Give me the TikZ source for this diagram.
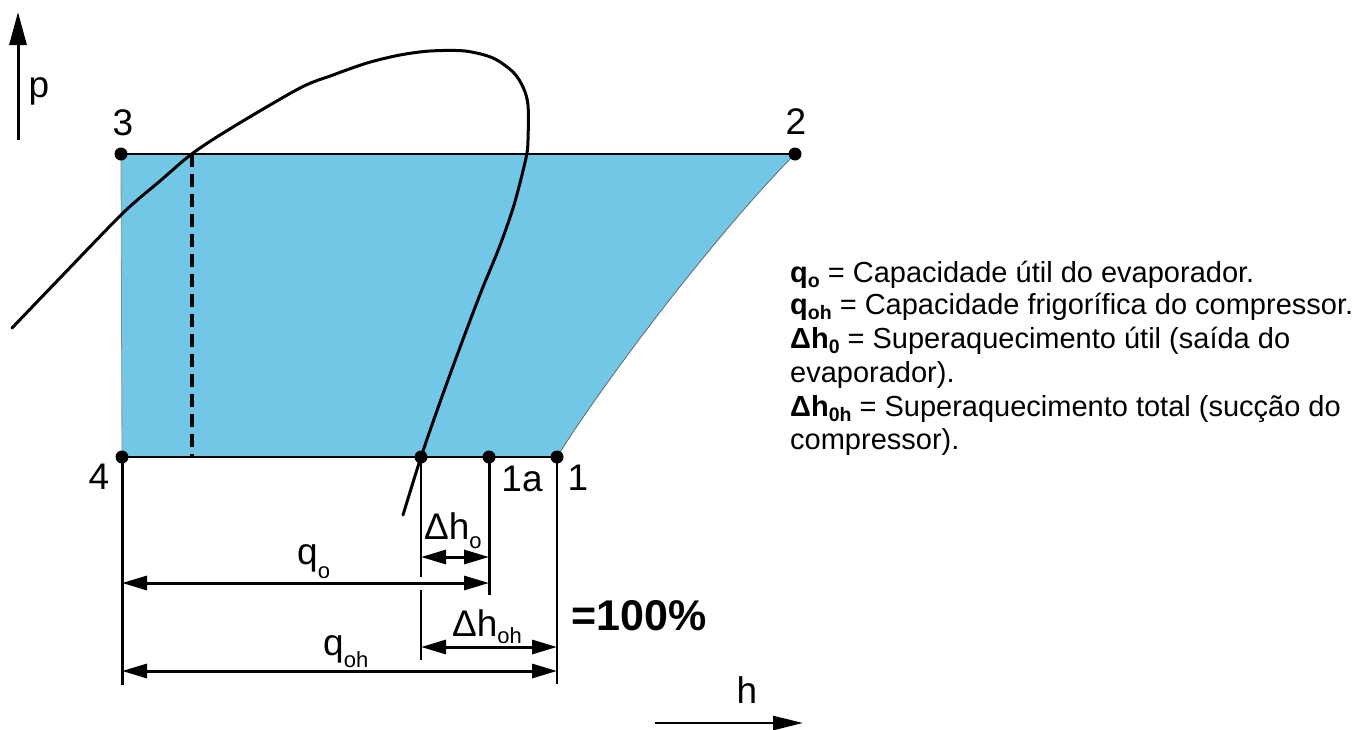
\documentclass[tikz,border=0pt]{standalone}
\usepackage{fontspec}
\setmainfont{Liberation Sans}
\usetikzlibrary{arrows.meta}
\definecolor{cycleblue}{RGB}{115,199,230}
\newcommand{\lbsz}{\fontsize{37}{37}\selectfont}
\newcommand{\subsz}{\fontsize{22}{22}\selectfont}
\newcommand{\txsz}{\fontsize{29}{33}\selectfont}
\newcommand{\txsub}[1]{\raisebox{-5pt}{\fontsize{19.5}{19.5}\selectfont\bfseries #1}}
\newcommand{\dsub}[2]{\raisebox{-#1pt}{\subsz #2}}
\begin{document}
\begin{tikzpicture}[x={(1pt,0)}, y={(0,-1pt)},
  thinln/.style={line width=1.5pt},
  thickln/.style={line width=3pt},
  dimarrow/.style={line width=3pt, {Triangle[length=25pt,width=14pt]}-{Triangle[length=25pt,width=14pt]}},
  dot/.style={circle, fill=black, inner sep=0pt, minimum size=13pt},
  lbl/.style={inner sep=0pt, font=\lbsz},
  txt/.style={anchor=base west, inner sep=0pt, font=\txsz}]
\useasboundingbox (0,0) rectangle (1362,729);

% cycle corner points
\coordinate (P3) at (121,154);
\coordinate (P2) at (795,154);
\coordinate (P1) at (557,457);
\coordinate (P4) at (122,457);
\coordinate (P1a) at (489,457);
\coordinate (Psat) at (421,457);
\coordinate (Pdash) at (192,154);
\coordinate (Pdashb) at (192,457);

% blue area
\fill[cycleblue] (P3) -- (P2) .. controls (715,235) and (605,380) .. (P1) -- (P4) -- cycle;
\draw[line width=0.8pt, black!60] (P2) .. controls (715,235) and (605,380) .. (P1);
\draw[line width=0.8pt, black!45] (P3) -- (P4);
\draw[thinln] (P3) -- (P2);
\draw[thinln] (P4) -- (P1);
\draw[line width=4.5pt, dash pattern=on 13pt off 7pt] (Pdash) -- (Pdashb);

% saturation dome
\draw[line width=3pt, line join=round, line cap=round] plot[smooth, tension=0.5] coordinates {
 (12,328) (60,278) (123,213) (160,181) (193,153) (233,127) (300,88) (333,75) (367,63)
 (400,55) (430,51) (465,51) (493,58) (513,72) (523,87) (528,105) (528,140) (526,158)
 (514,205) (499,248) (481,292) (459,350) (439,405) (421,457) (403,515)};

% extension lines
\coordinate (E4) at (122,685);
\coordinate (Es1) at (421,577);
\coordinate (Es2) at (421,590);
\coordinate (Es3) at (421,660);
\coordinate (E1a) at (489,595);
\coordinate (E1) at (557,684);
\draw[thickln] (P4) -- (E4);
\draw[thinln] (Psat) -- (Es1);
\draw[thinln] (Es2) -- (Es3);
\draw[thickln] (P1a) -- (E1a);
\draw[thinln] (P1) -- (E1);

% dimension arrows
\coordinate (dhoL) at (421,557);
\coordinate (dhoR) at (489,557);
\coordinate (qoL) at (122,583);
\coordinate (qoR) at (489,583);
\coordinate (dhohL) at (421,647);
\coordinate (dhohR) at (557,647);
\coordinate (qohL) at (122,671);
\coordinate (qohR) at (557,671);
\draw[dimarrow] (dhoL) -- (dhoR);
\draw[dimarrow] (qoL) -- (qoR);
\draw[dimarrow] (dhohL) -- (dhohR);
\draw[dimarrow] (qohL) -- (qohR);

% axes
\coordinate (pA) at (18,140);
\coordinate (pB) at (18,12);
\coordinate (hA) at (655,723);
\coordinate (hB) at (803,723);
\draw[line width=3pt, -{Triangle[length=33pt,width=17pt]}] (pA) -- (pB);
\draw[line width=2.5pt, -{Triangle[length=30pt,width=14pt]}] (hA) -- (hB);

% dots
\node[dot] (n3) at (P3) {};
\node[dot] (n2) at (P2) {};
\node[dot] (n4) at (P4) {};
\node[dot] (n1) at (P1) {};
\node[dot] (n1a) at (P1a) {};
\node[dot] (nsat) at (Psat) {};

% labels
\node[lbl] (l3) at (123,123) {3};
\node[lbl] (l2) at (796,122) {2};
\node[lbl] (l4) at (99,477) {4};
\node[lbl] (l1a) at (522,479) {1a};
\node[lbl] (l1) at (578,478) {1};
\node[lbl] (lp) at (39,91) {p};
\node[lbl] (lh) at (747,690) {h};
\node[inner sep=0pt, font=\fontsize{43}{43}\selectfont\bfseries] (l100) at (639,616) {=100\%};
\node[lbl, anchor=base west] (ldho) at (424,539) {Δh\dsub{9}{o}};
\node[lbl, anchor=base west] (ldhoh) at (452,636) {Δh\dsub{7}{oh}};
\node[lbl, anchor=base west] (lqo) at (297,564) {q\dsub{14}{o}};
\node[lbl, anchor=base west] (lqoh) at (323,655) {q\dsub{12}{oh}};

% legend text
\node[txt] (t1) at (790,282) {\textbf{q}\txsub{o} = Capacidade útil do evaporador.};
\node[txt] (t2) at (790,314) {\textbf{q}\txsub{oh} = Capacidade frigorífica do compressor.};
\node[txt] (t3) at (790,348) {\textbf{Δh}\txsub{0} = Superaquecimento útil (saída do};
\node[txt] (t4) at (790,382) {evaporador).};
\node[txt] (t5) at (790,416) {\textbf{Δh}\txsub{0h} = Superaquecimento total (sucção do};
\node[txt] (t6) at (790,449) {compressor).};
\end{tikzpicture}
\end{document}
